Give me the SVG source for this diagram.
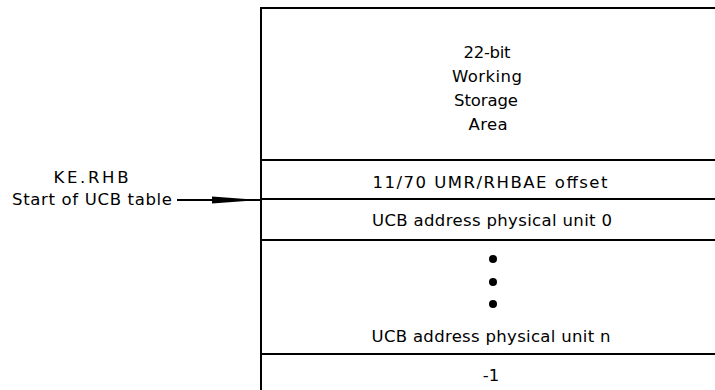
<svg xmlns="http://www.w3.org/2000/svg" width="715" height="390" viewBox="0 0 715 390">
  <style>
    .ln { stroke: #000; stroke-width: 2; fill: none; }
    .t { font-family: "DejaVu Sans", "Liberation Sans", Arial, sans-serif; font-size: 16.5px; fill: #000; text-anchor: middle; }
  </style>
  <defs>
    <marker id="ah" viewBox="0 0 48 8" refX="48" refY="4" markerWidth="48" markerHeight="8" markerUnits="userSpaceOnUse" orient="auto">
      <path d="M0,0.6 L48,4 L0,7.4 Z" fill="#000"/>
    </marker>
  </defs>
  <rect width="715" height="390" fill="#fff"/>

  <g id="table">
    <line class="ln" x1="261" y1="8" x2="261" y2="390"/>
    <line class="ln" x1="260" y1="8" x2="715" y2="8"/>
  </g>

  <g id="working-storage">
    <text class="t" x="487" y="58" textLength="47" lengthAdjust="spacing">22-bit</text>
    <text class="t" x="487" y="82" textLength="70" lengthAdjust="spacing">Working</text>
    <text class="t" x="486" y="106" textLength="64" lengthAdjust="spacing">Storage</text>
    <text class="t" x="488" y="130" textLength="39" lengthAdjust="spacing">Area</text>
    <line class="ln" x1="261" y1="160" x2="715" y2="160"/>
  </g>

  <g id="umr-offset">
    <text class="t" x="490" y="188" textLength="235" lengthAdjust="spacing">11/70 UMR/RHBAE offset</text>
    <line class="ln" x1="261" y1="199" x2="715" y2="199"/>
  </g>

  <g id="ucb-unit-0">
    <text class="t" x="492" y="226" textLength="240" lengthAdjust="spacing">UCB address physical unit 0</text>
    <line class="ln" x1="261" y1="240" x2="715" y2="240"/>
  </g>

  <g id="ucb-unit-n">
    <circle cx="493" cy="259" r="4"/>
    <circle cx="493" cy="282" r="4"/>
    <circle cx="493" cy="304" r="4"/>
    <text class="t" x="491" y="342" textLength="239" lengthAdjust="spacing">UCB address physical unit n</text>
    <line class="ln" x1="261" y1="354" x2="715" y2="354"/>
  </g>

  <g id="terminator">
    <text class="t" x="491" y="381">-1</text>
  </g>

  <g id="label">
    <text class="t" x="91" y="183" textLength="75" lengthAdjust="spacing">KE.RHB</text>
    <text class="t" x="92" y="205" textLength="160" lengthAdjust="spacing">Start of UCB table</text>
  </g>

  <g id="connectors">
    <line x1="177" y1="200" x2="260" y2="200" stroke="#000" stroke-width="2" marker-end="url(#ah)"/>
  </g>
</svg>
